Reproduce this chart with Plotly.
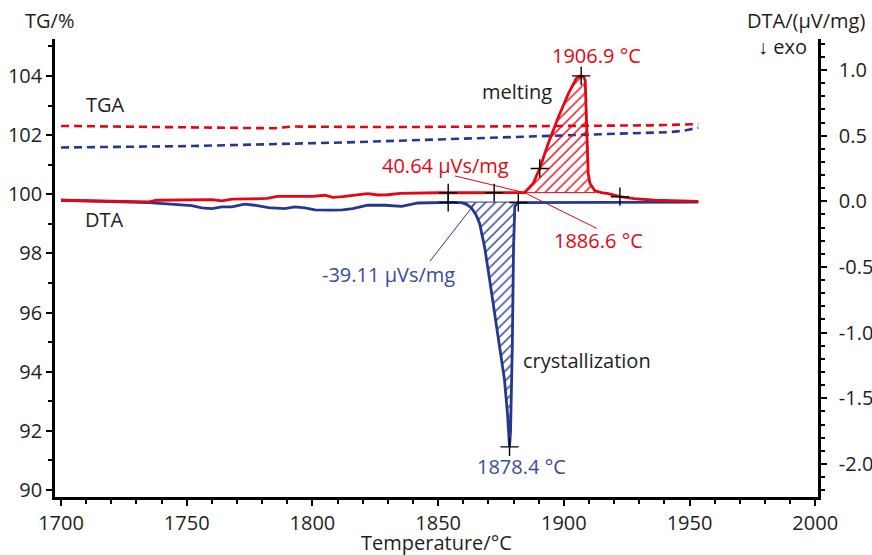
import numpy as np
import plotly.graph_objects as go

# ---------------- data ----------------
red_dta_T = [1700, 1710, 1720, 1730, 1735, 1738, 1745, 1755, 1760, 1764, 1768, 1775, 1782, 1786,
             1795, 1800, 1805, 1808, 1812, 1818, 1822, 1826, 1830, 1835, 1840, 1850, 1860, 1870,
             1880, 1884.3, 1887.8, 1890.4, 1893.8, 1897.8, 1901.8, 1905.1, 1906.9, 1907.9, 1908.5,
             1908.8, 1909.3, 1909.7, 1910.4, 1912.4, 1915, 1917.7, 1922.3, 1928, 1936, 1945, 1953.5]
red_dta_v = [0.008, 0.005, 0.002, 0.0, -0.004, 0.008, 0.011, 0.013, 0.012, 0.004, 0.016, 0.018,
             0.022, 0.038, 0.04, 0.038, 0.046, 0.03, 0.036, 0.046, 0.058, 0.048, 0.05, 0.06, 0.063,
             0.065, 0.065, 0.065, 0.065, 0.066, 0.135, 0.25, 0.44, 0.64, 0.82, 0.94, 0.955, 0.95,
             0.92, 0.72, 0.466, 0.21, 0.135, 0.079, 0.066, 0.059, 0.035, 0.02, 0.008, 0.002, 0.0]

blue_dta_T = [1700, 1720, 1735, 1752, 1756, 1760, 1764, 1768, 1773, 1777, 1782.5, 1789, 1793, 1797,
              1801, 1807, 1812, 1816, 1822, 1829, 1835.5, 1842, 1849, 1855, 1859.3, 1861.5, 1863.3,
              1865, 1866.5, 1868.5, 1870.5, 1872.5, 1874.4, 1876.4, 1877.6, 1878.2, 1878.4, 1878.8,
              1879.5, 1880.0, 1880.5, 1881.6, 1900, 1930, 1953.5]
blue_dta_v = [0.008, 0.0, -0.01, -0.033, -0.05, -0.056, -0.043, -0.043, -0.021, -0.03, -0.048,
              -0.056, -0.043, -0.05, -0.066, -0.068, -0.066, -0.056, -0.03, -0.03, -0.038, -0.013,
              -0.008, -0.008, -0.01, -0.025, -0.053, -0.1, -0.168, -0.35, -0.6, -0.85, -1.11,
              -1.36, -1.62, -1.8, -1.87, -1.75, -1.11, -0.35, -0.04, -0.01, -0.008, -0.008, -0.006]

red_tg_T = [1700, 1720, 1740, 1760, 1775, 1785, 1792, 1810, 1830, 1850, 1880, 1915, 1935, 1953.5]
red_tg_v = [102.31, 102.29, 102.28, 102.27, 102.25, 102.23, 102.29, 102.27, 102.27, 102.28, 102.3,
            102.31, 102.33, 102.37]

blue_tg_T = [1700, 1752, 1812, 1843, 1880, 1915, 1942, 1947, 1950, 1953.5]
blue_tg_v = [101.58, 101.63, 101.75, 101.84, 101.94, 102.03, 102.10, 102.14, 102.19, 102.25]

# evaluated points ("+")
red_mark_T = [1854.0, 1872.3, 1890.4, 1906.9, 1922.3]
red_mark_v = [0.065, 0.065, 0.25, 0.955, 0.035]
blue_mark_T = [1854.0, 1881.9, 1878.4]
blue_mark_v = [-0.008, -0.009, -1.87]

# peak integration limits and baselines
red_peak_lim = [1884.3, 1912.4]
red_peak_base = 0.066
blue_peak_lim = [1859.3, 1880.5]
blue_peak_base = -0.006

# leader lines
red_leader1_T = [1856.7, 1884.3]
red_leader1_v = [0.193, 0.066]
red_leader2_T = [1884.3, 1913.1]
red_leader2_v = [0.066, -0.206]
blue_leader_T = [1846.8, 1864.7]
blue_leader_v = [-0.455, -0.015]

# axis ticks
x_ticks = [1700, 1750, 1800, 1850, 1900, 1950, 2000]
tg_ticks = [90, 92, 94, 96, 98, 100, 102, 104]
dta_ticks = [-2.0, -1.5, -1.0, -0.5, 0.0, 0.5, 1.0]
dta_ticktext = ["-2.0", "-1.5", "-1.0", "-0.5", "0.0", "0.5", "1.0"]

RED = "rgb(227,6,19)"
BLUE = "rgb(38,55,142)"
BLUE_TXT = "rgb(58,74,156)"
TXT = "#1e1e1e"
FONT = "Open Sans"


def area(T, v, lim, base):
    T = np.array(T); v = np.array(v)
    m = (T >= lim[0]) & (T <= lim[1])
    xs = list(T[m]) + [lim[1], lim[0], lim[0]]
    ys = list(v[m]) + [base, base, v[m][0]]
    return xs, ys


fig = go.Figure()

rx, ry = area(red_dta_T, red_dta_v, red_peak_lim, red_peak_base)
fig.add_trace(go.Scatter(x=rx, y=ry, yaxis="y2", mode="none", fill="toself",
                         fillcolor="rgba(0,0,0,0)",
                         fillpattern=dict(shape="/", fgcolor=RED, bgcolor="rgba(255,255,255,0)",
                                          size=7, solidity=0.2),
                         hoverinfo="skip"))
bx, by = area(blue_dta_T, blue_dta_v, blue_peak_lim, blue_peak_base)
fig.add_trace(go.Scatter(x=bx, y=by, yaxis="y2", mode="none", fill="toself",
                         fillcolor="rgba(0,0,0,0)",
                         fillpattern=dict(shape="/", fgcolor=BLUE, bgcolor="rgba(255,255,255,0)",
                                          size=7, solidity=0.2),
                         hoverinfo="skip"))

# baseline lines of the peaks
fig.add_trace(go.Scatter(x=red_peak_lim, y=[red_peak_base] * 2, yaxis="y2", mode="lines",
                         line=dict(color=RED, width=1)))
fig.add_trace(go.Scatter(x=blue_peak_lim, y=[blue_peak_base] * 2, yaxis="y2", mode="lines",
                         line=dict(color=BLUE, width=1)))

# TGA
fig.add_trace(go.Scatter(x=red_tg_T, y=red_tg_v, mode="lines",
                         line=dict(color=RED, width=2.6, dash="8px,5px")))
fig.add_trace(go.Scatter(x=blue_tg_T, y=blue_tg_v, mode="lines",
                         line=dict(color=BLUE, width=2.6, dash="8px,5px")))

# leader lines
fig.add_trace(go.Scatter(x=red_leader1_T, y=red_leader1_v, yaxis="y2", mode="lines",
                         line=dict(color=RED, width=1)))
fig.add_trace(go.Scatter(x=red_leader2_T, y=red_leader2_v, yaxis="y2", mode="lines",
                         line=dict(color=RED, width=1)))
fig.add_trace(go.Scatter(x=blue_leader_T, y=blue_leader_v, yaxis="y2", mode="lines",
                         line=dict(color=BLUE, width=1)))

# DTA
fig.add_trace(go.Scatter(x=blue_dta_T, y=blue_dta_v, yaxis="y2", mode="lines",
                         line=dict(color=BLUE, width=2.8)))
fig.add_trace(go.Scatter(x=red_dta_T, y=red_dta_v, yaxis="y2", mode="lines",
                         line=dict(color=RED, width=2.8)))

# markers
fig.add_trace(go.Scatter(x=red_mark_T + blue_mark_T, y=red_mark_v + blue_mark_v, yaxis="y2",
                         mode="markers",
                         marker=dict(symbol="cross-thin", size=13, color="black",
                                     line=dict(width=1.4, color="black"))))

anns = [
    ("1906.9 °C", 1913.1, 1.114, RED),
    ("melting", 1881.3, 0.84, TXT),
    ("40.64 µVs/mg", 1853.1, 0.269, RED),
    ("1886.6 °C", 1913.6, -0.302, RED),
    ("-39.11 µVs/mg", 1830.1, -0.561, BLUE_TXT),
    ("crystallization", 1909.4, -1.216, TXT),
    ("1878.4 °C", 1883.3, -2.02, BLUE_TXT),
    ("TGA", 1717.5, 0.737, TXT),
    ("DTA", 1717.1, -0.135, TXT),
]
annotations = [dict(text=t, x=x, y=y, xref="x", yref="y2", showarrow=False,
                    font=dict(family=FONT, size=20, color=c), xanchor="center", yanchor="middle")
               for t, x, y, c in anns]
annotations += [
    dict(text="TG/%", x=-0.0072, y=1.0404, xref="paper", yref="paper", showarrow=False,
         font=dict(family=FONT, size=20, color=TXT), xanchor="center", yanchor="middle"),
    dict(text="DTA/(µV/mg)", x=0.9843, y=1.0404, xref="paper", yref="paper", showarrow=False,
         font=dict(family=FONT, size=20, color=TXT), xanchor="center", yanchor="middle"),
    dict(text="↓ exo", x=0.9535, y=0.983, xref="paper", yref="paper", showarrow=False,
         font=dict(family=FONT, size=20, color=TXT), xanchor="center", yanchor="middle"),
    dict(text="Temperature/°C", x=0.5, y=-0.1004, xref="paper", yref="paper", showarrow=False,
         font=dict(family=FONT, size=20, color=TXT), xanchor="center", yanchor="middle"),
]

axis_common = dict(showline=True, linecolor="black", linewidth=2.6, ticks="outside",
                   tickcolor="black", tickwidth=2, ticklen=6, showgrid=False, zeroline=False,
                   automargin=False,
                   tickfont=dict(family=FONT, size=20, color=TXT))

fig.update_layout(
    template="none",
    width=872, height=555,
    margin=dict(l=55, r=54, t=39, b=58),
    plot_bgcolor="white", paper_bgcolor="white",
    showlegend=False,
    font=dict(family=FONT, size=20, color=TXT),
    xaxis=dict(range=[1697.6, 2001.1], tickvals=x_ticks,
               minor=dict(dtick=10, tick0=1700, ticks="outside", ticklen=4, tickwidth=2,
                          tickcolor="black"),
               **axis_common),
    yaxis=dict(range=[89.76, 105.25], tickvals=tg_ticks,
               minor=dict(dtick=1, tick0=90, ticks="outside", ticklen=4, tickwidth=2,
                          tickcolor="black"),
               **axis_common),
    yaxis2=dict(range=[-2.252, 1.236], overlaying="y", side="right", tickvals=dta_ticks,
                ticktext=dta_ticktext, ticklabelstandoff=8,
                minor=dict(dtick=0.1, tick0=0, ticks="outside", ticklen=4, tickwidth=2,
                           tickcolor="black"),
                **axis_common),
    annotations=annotations,
)

fig.write_html("out.html")
